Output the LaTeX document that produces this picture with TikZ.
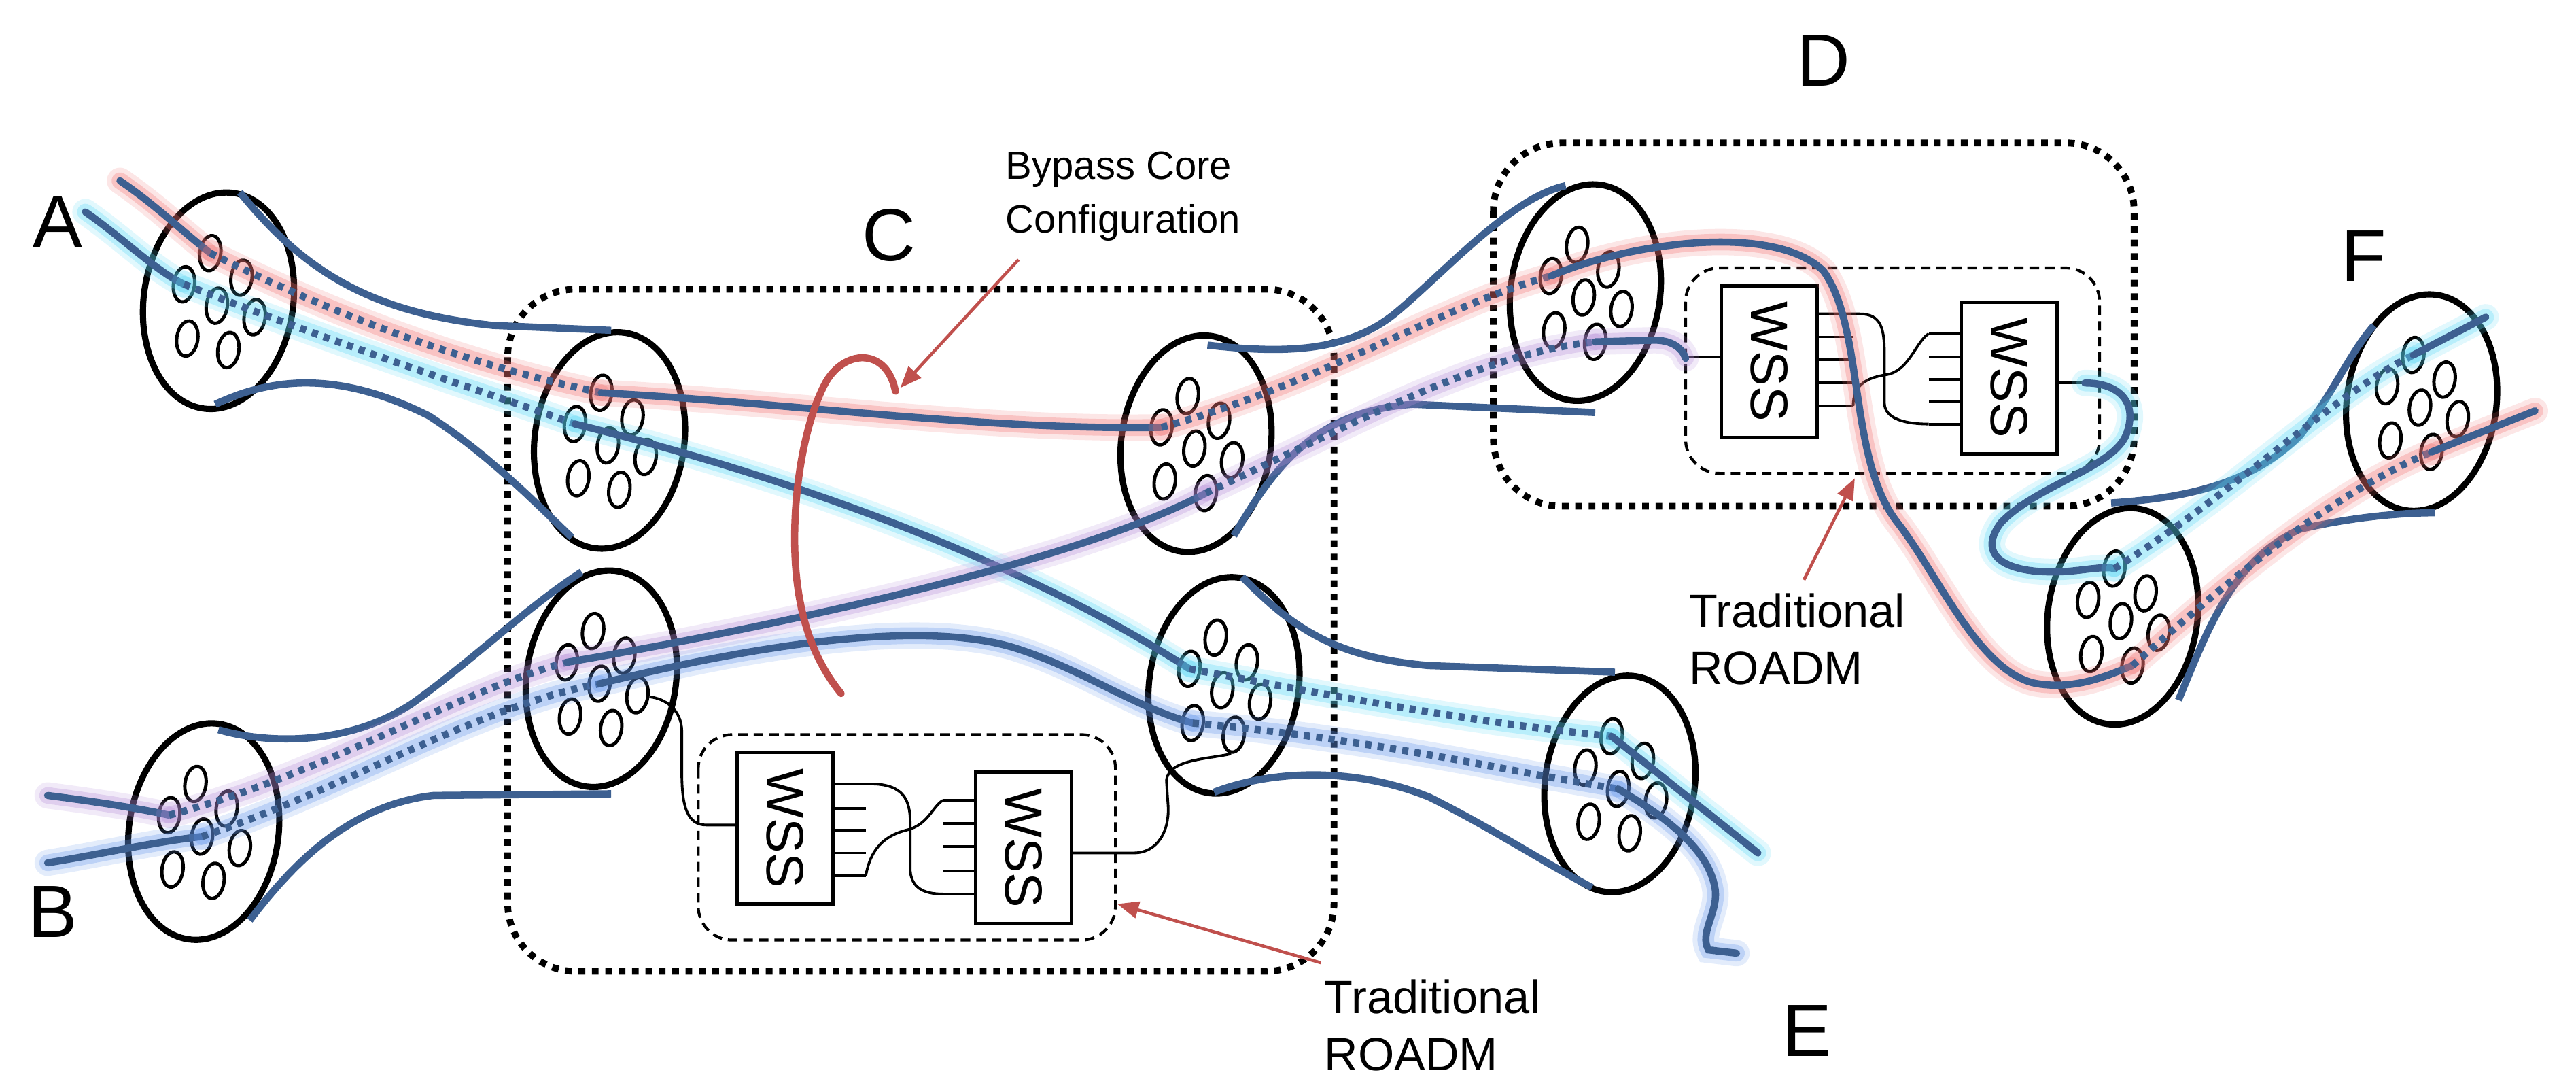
\documentclass[tikz,border=0pt]{standalone}
\usepackage{fontspec}
\setmainfont{Liberation Sans}
\usetikzlibrary{shapes.geometric,calc,arrows.meta}
\definecolor{fib}{RGB}{61,96,145}
\definecolor{gR}{RGB}{240,115,115}
\definecolor{gC}{RGB}{90,215,245}
\definecolor{gP}{RGB}{180,140,215}
\definecolor{gB}{RGB}{100,150,235}
\definecolor{rd}{RGB}{192,80,77}
\tikzset{
 fiber/.style={line width=3pt,fib,line cap=round},
 glow/.style={line width=11pt,opacity=0.18,line cap=round},
 glowin/.style={line width=7pt,opacity=0.3,line cap=round},
 dotf/.style={line width=3pt,fib,dash pattern=on 2.6pt off 2.6pt},
 tube/.style={line width=3pt,fib},
 bund/.style={draw,ellipse,line width=2.6pt,minimum width=2.2cm,minimum height=3.2cm,rotate=-8,inner sep=0pt},
 core/.style={draw,ellipse,line width=1.4pt,minimum width=0.31cm,minimum height=0.52cm,rotate=-8,inner sep=0pt},
 big/.style={draw,line width=2.8pt,dash pattern=on 2.8pt off 2.8pt,rounded corners=1cm},
 inner/.style={draw,line width=1.2pt,dash pattern=on 4pt off 2.5pt,rounded corners=0.5cm},
 wss/.style={draw,line width=1.5pt,minimum width=1.41cm,minimum height=2.23cm,inner sep=0pt},
 port/.style={line width=1.1pt},
 lbl/.style={font=\fontsize{31}{31}\selectfont},
 note/.style={font=\fontsize{19.5}{24}\selectfont,align=left},
 arr/.style={rd,line width=1.3pt,-{Triangle[length=9pt,width=7pt]}}
}
\newcommand\bundle[3]{\node[bund] (#1) at (#2,#3) {};
 \foreach \i/\dx/\dy in {1/-5/-29,2/14/-14,3/-21/-10,4/-1/3,5/22/10,6/-19/23,7/6/30}
  {\node[core] (#1-\i) at ($(#1)+(\dx,\dy)$) {};}}
\newcommand\gfib[2]{\draw[glow,#1] #2; \draw[glowin,#1] #2; \draw[fiber] #2;}
\newcommand\gdot[2]{\draw[glow,#1] #2; \draw[glowin,#1] #2; \draw[dotf] #2;}
\begin{document}
\begin{tikzpicture}[x=0.02417cm,y=-0.02417cm]
\useasboundingbox (0,0) rectangle (1568,655);
% boxes
\draw[big] (309,176) rectangle (812,591);
\draw[big] (909,87) rectangle (1299,308);
\draw[inner] (425,447) rectangle (679,572);
\draw[inner] (1026,163) rectangle (1278,288);
% WSS
\node[wss] (w1) at (478,504) {}; \node[rotate=-90,font=\fontsize{22}{22}\selectfont] at (w1) {WSS};
\node[wss] (w2) at (623,516) {}; \node[rotate=-90,font=\fontsize{22}{22}\selectfont] at (w2) {WSS};
\node[wss] (w3) at (1077,220) {}; \node[rotate=-90,font=\fontsize{22}{22}\selectfont] at (w3) {WSS};
\node[wss] (w4) at (1223,230) {}; \node[rotate=-90,font=\fontsize{22}{22}\selectfont] at (w4) {WSS};
\foreach \y in {492,505,519} \draw[port] (507,\y) -- (527,\y);
\foreach \y in {501,515,530} \draw[port] (574,\y) -- (594,\y);
\draw[port] (594,487) -- (574,487); \draw[port] (594,544) -- (574,544);
\draw[port] (507,533) -- (527,533);
\draw[port] (507,477) -- (530,477) .. controls (550,477) and (554,487) .. (554,500) -- (554,528) .. controls (554,540) and (562,544) .. (574,544);
\draw[port] (527,533) .. controls (530,515) and (540,508) .. (552,505) .. controls (565,502) and (568,490) .. (574,487);
\foreach \y in {205,219,233} \draw[port] (1106,\y) -- (1128,\y);
\foreach \y in {217,231,244} \draw[port] (1174,\y) -- (1194,\y);
\draw[port] (1194,203) -- (1174,203); \draw[port] (1194,258) -- (1174,258);
\draw[port] (1106,247) -- (1128,247);
\draw[port] (1106,191) -- (1132,191) .. controls (1145,191) and (1147,200) .. (1147,215) -- (1147,245) .. controls (1147,255) and (1160,258) .. (1174,258);
\draw[port] (1128,247) .. controls (1128,235) and (1135,230) .. (1148,228) .. controls (1162,226) and (1166,208) .. (1174,203);
\draw[port] (1048,217) -- (1026,217);
\draw[port] (1252,233) -- (1269,233);
% bundles
\bundle{E1}{133}{183}
\bundle{E2}{371}{268}
\bundle{E3}{366}{413}
\bundle{E4}{728}{270}
\bundle{E5}{745}{417}
\bundle{E6}{124}{506}
\bundle{E7}{986}{477}
\bundle{E8}{965}{178}
\bundle{E9}{1474}{245}
\bundle{E10}{1292}{375}
% WSS to bundles
\draw[port] (w1.west |- 0,502) -- (430,502) .. controls (418,502) and (415,490) .. (415,470) -- (415,445) .. controls (415,432) and (405,425) .. (E3-5.east);
\draw[port] (w2.east |- 0,519) -- (690,519) .. controls (705,519) and (712,505) .. (711,490) -- (710,475) .. controls (711,462) and (735,462) .. (E5-7.south);
% tubes
\draw[tube] (146,117) .. controls (185,165) and (225,190) .. (300,198) -- (372,201);
\draw[tube] (131,246) .. controls (165,230) and (205,225) .. (261,253) .. controls (295,275) and (320,300) .. (348,327);
\draw[tube] (735,210) .. controls (780,215) and (820,215) .. (850,190) .. controls (880,165) and (920,120) .. (953,113);
\draw[tube] (751,326) .. controls (775,285) and (800,250) .. (860,246) -- (971,251);
\draw[tube] (756,351) .. controls (785,380) and (810,400) .. (870,405) -- (983,409);
\draw[tube] (739,482) .. controls (770,470) and (820,465) .. (870,485) .. controls (910,505) and (940,525) .. (969,540);
\draw[tube] (133,444) .. controls (160,452) and (210,455) .. (251,428) .. controls (290,400) and (320,370) .. (354,348);
\draw[tube] (152,560) .. controls (175,530) and (210,490) .. (264,484) -- (372,483);
\draw[tube] (1285,306) .. controls (1330,303) and (1370,295) .. (1400,265) .. controls (1420,240) and (1430,215) .. (1445,198);
\draw[tube] (1326,426) .. controls (1345,380) and (1360,340) .. (1400,322) .. controls (1430,315) and (1460,312) .. (1482,312);
% red
\gfib{gR}{(73,110) .. controls (95,125) and (110,140) .. (E1-1.center)}
\gdot{gR}{(E1-1.center) .. controls (220,200) and (300,225) .. (E2-1.center)}
\gfib{gR}{(E2-1.center) .. controls (480,245) and (600,262) .. (E4-3.center)}
\gdot{gR}{(E4-3.center) .. controls (800,235) and (880,185) .. (E8-3.center)}
\gfib{gR}{(E8-3.center) .. controls (990,148) and (1080,135) .. (1110,165) .. controls (1135,200) and (1125,280) .. (1155,318) .. controls (1180,350) and (1205,410) .. (1240,416) .. controls (1265,420) and (1285,410) .. (E10-7.center)}
\gdot{gR}{(E10-7.center) .. controls (1360,350) and (1420,300) .. (E9-7.center)}
\gfib{gR}{(E9-7.center) -- (1543,250)}
% cyan
\gfib{gC}{(52,129) .. controls (75,145) and (95,165) .. (E1-3.center)}
\gdot{gC}{(E1-3.center) .. controls (220,215) and (300,240) .. (E2-3.center)}
\gfib{gC}{(E2-3.center) .. controls (480,290) and (620,340) .. (E5-3.center)}
\gdot{gC}{(E5-3.center) .. controls (820,425) and (900,440) .. (E7-1.center)}
\gfib{gC}{(E7-1.center) -- (1070,519)}
% purple
\gfib{gP}{(29,484) .. controls (60,488) and (85,492) .. (E6-3.center)}
\gdot{gP}{(E6-3.center) .. controls (200,470) and (280,420) .. (E3-3.center)}
\gfib{gP}{(E3-3.center) .. controls (450,385) and (650,345) .. (E4-7.center)}
\gdot{gP}{(E4-7.center) .. controls (820,260) and (900,215) .. (E8-7.center)}
\gfib{gP}{(E8-7.center) -- (1007,207) .. controls (1018,207) and (1024,212) .. (1026,218)}
% light blue
\gfib{gB}{(29,525) .. controls (60,520) and (95,512) .. (E6-4.center)}
\gdot{gB}{(E6-4.center) .. controls (210,480) and (290,430) .. (E3-4.center)}
\gfib{gB}{(E3-4.center) .. controls (450,395) and (560,375) .. (620,395) .. controls (660,408) and (690,430) .. (E5-6.center)}
\gdot{gB}{(E5-6.center) .. controls (840,450) and (920,470) .. (E7-4.center)}
\gfib{gB}{(E7-4.center) .. controls (1010,495) and (1040,515) .. (1044,541) .. controls (1046,555) and (1034,568) .. (1040,578) -- (1057,580)}
% cyan F
\gfib{gC}{(1269,233) .. controls (1290,233) and (1302,245) .. (1294,265) .. controls (1285,285) and (1240,295) .. (1218,318) .. controls (1205,335) and (1215,348) .. (1250,348) .. controls (1265,348) and (1280,344) .. (E10-1.center)}
\gdot{gC}{(E10-1.center) .. controls (1360,300) and (1420,240) .. (E9-1.center)}
\gfib{gC}{(E9-1.center) -- (1513,193)}
% bypass core
\draw[rd,line width=3pt,line cap=round] (545,238) .. controls (540,212) and (515,212) .. (503,232) .. controls (490,255) and (482,300) .. (484,340) .. controls (486,380) and (498,405) .. (512,422);
% labels
\node[lbl] (A) at (35,135) {A};
\node[lbl] (B) at (32,555) {B};
\node[lbl] (C) at (541,143) {C};
\node[lbl] (D) at (1110,37) {D};
\node[lbl] (E) at (1100,627) {E};
\node[lbl] (F) at (1439,156) {F};
\node[anchor=north west,font=\fontsize{16.5}{22.5}\selectfont,align=left,inner sep=0pt] (bp) at (612,92) {Bypass Core\\Configuration};
\node[note,anchor=west,inner sep=0pt] (r1) at (806,624) {Traditional\\ROADM};
\node[note,anchor=west,inner sep=0pt] (r2) at (1028,389) {Traditional\\ROADM};
\coordinate (bpT) at (548,236);
\coordinate (r1T) at (680,550);
\coordinate (r2T) at (1129,291);
\draw[arr] (620,158) -- (bpT);
\draw[arr] (r1.north west) ++(-2,-10) -- (r1T);
\draw[arr] (r2.north west) ++(70,-8) -- (r2T);
\end{tikzpicture}
\end{document}
